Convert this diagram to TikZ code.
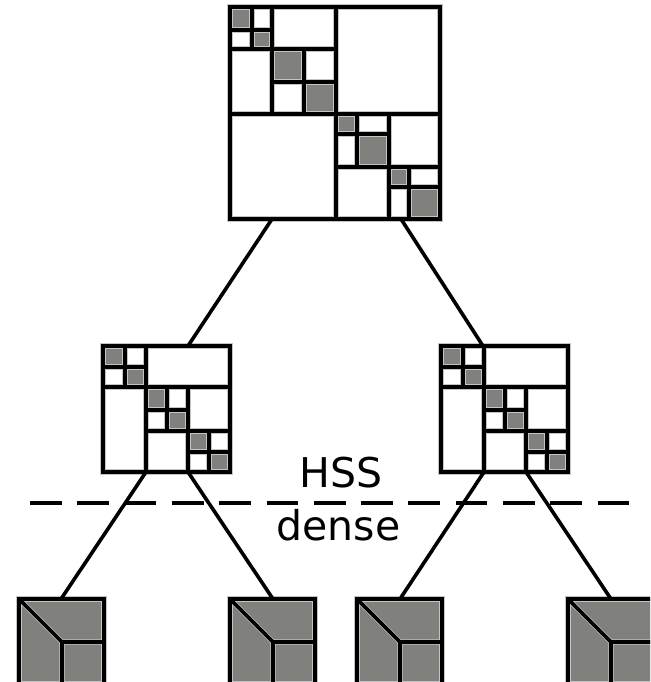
\documentclass[tikz,border=0pt]{standalone}
\usepackage{fontspec}
\setmainfont{DejaVu Sans}
\definecolor{blockgray}{RGB}{128,129,125}
\definecolor{edgegray}{RGB}{196,196,196}
\tikzset{
  ink/.style={line width=3.6pt, black},
  halo/.style={line width=5.1pt, edgegray},
  shade/.style={fill=blockgray},
  link/.style={line width=3.6pt, black},
  cut/.style={line width=3.6pt, black, dash pattern=on 31.7pt off 15.6pt},
  lbl/.style={font=\fontsize{41}{49}\selectfont, inner sep=0pt, anchor=base},
}
% grid lines of the root HSS matrix
\newcommand\rootgrid[1]{%
  \draw[#1] (230,7) rectangle (440,219);
  \draw[#1] (336,7) -- (336,219) (230,114) -- (440,114);
  \draw[#1] (272,7) -- (272,114) (230,49) -- (336,49);
  \draw[#1] (252,7) -- (252,49) (230,30) -- (272,30);
  \draw[#1] (304,49) -- (304,114) (272,82) -- (336,82);
  \draw[#1] (389,114) -- (389,219) (336,167) -- (440,167);
  \draw[#1] (357,114) -- (357,167) (336,134) -- (389,134);
  \draw[#1] (409,167) -- (409,219) (389,187) -- (440,187);
}
% grid lines of a child HSS matrix
\newcommand\childgrid[1]{%
  \draw[#1] (103,346) rectangle (230,472);
  \draw[#1] (146,346) -- (146,472) (103,387) -- (230,387);
  \draw[#1] (188,387) -- (188,472) (146,431) -- (230,431);
  \draw[#1] (125,346) -- (125,387) (103,367) -- (146,367);
  \draw[#1] (167,387) -- (167,431) (146,410) -- (188,410);
  \draw[#1] (209,431) -- (209,472) (188,452) -- (230,452);
}
% grid lines of a dense leaf block
\newcommand\densegrid[1]{%
  \draw[#1] (0,0) rectangle (85,85);
  \draw[#1] (0,0) -- (43,43) -- (85,43) (43,43) -- (43,85);
}
\begin{document}
\begin{tikzpicture}[x=1pt, y=-1pt]
\useasboundingbox (0,0) rectangle (650,682);
\clip (0,0) rectangle (650,682);

% diagonal leaf blocks of the root matrix
\fill[shade] (230,7) rectangle (252,30) (252,30) rectangle (272,49)
             (272,49) rectangle (304,82) (304,82) rectangle (336,114)
             (336,114) rectangle (357,134) (357,134) rectangle (389,167)
             (389,167) rectangle (409,187) (409,187) rectangle (440,219);
% diagonal leaf blocks of the two child matrices
\foreach \dx in {0,338}{
  \begin{scope}[xshift=\dx pt]
    \fill[shade] (103,346) rectangle (125,367) (125,367) rectangle (146,387)
                 (146,387) rectangle (167,410) (167,410) rectangle (188,431)
                 (188,431) rectangle (209,452) (209,452) rectangle (230,472);
  \end{scope}
}
% dense leaves
\foreach \px in {19,230,357,568}{
  \fill[shade] (\px,599) rectangle ++(85,85);
}

% light edges, then the black grid lines
\rootgrid{halo}
\foreach \dx in {0,338}{\begin{scope}[xshift=\dx pt]\childgrid{halo}\end{scope}}
\foreach \px in {19,230,357,568}{\begin{scope}[shift={(\px,599)}]\densegrid{halo}\end{scope}}
\rootgrid{ink}
\foreach \dx in {0,338}{\begin{scope}[xshift=\dx pt]\childgrid{ink}\end{scope}}
\foreach \px in {19,230,357,568}{\begin{scope}[shift={(\px,599)}]\densegrid{ink}\end{scope}}

% attachment points of the tree edges
\coordinate (rootL) at (272,219);
\coordinate (rootR) at (401,219);
\coordinate (leftTop) at (188,346);
\coordinate (rightTop) at (483,346);
\coordinate (leftA) at (146,472);
\coordinate (leftB) at (188,472);
\coordinate (rightA) at (484,472);
\coordinate (rightB) at (526,472);
\coordinate (dense1) at (61,599);
\coordinate (dense2) at (273,599);
\coordinate (dense3) at (400,599);
\coordinate (dense4) at (611,599);

% tree edges
\draw[link] (rootL) -- (leftTop);
\draw[link] (rootR) -- (rightTop);
\draw[link] (leftA) -- (dense1);
\draw[link] (leftB) -- (dense2);
\draw[link] (rightA) -- (dense3);
\draw[link] (rightB) -- (dense4);

% level separator
\coordinate (cutL) at (30,503);
\coordinate (cutR) at (632,503);
\draw[cut] (cutL) -- (cutR);

\node[lbl] (hss) at (341,487) {HSS};
\node[lbl] (dense) at (338.5,540) {dense};
\end{tikzpicture}
\end{document}
